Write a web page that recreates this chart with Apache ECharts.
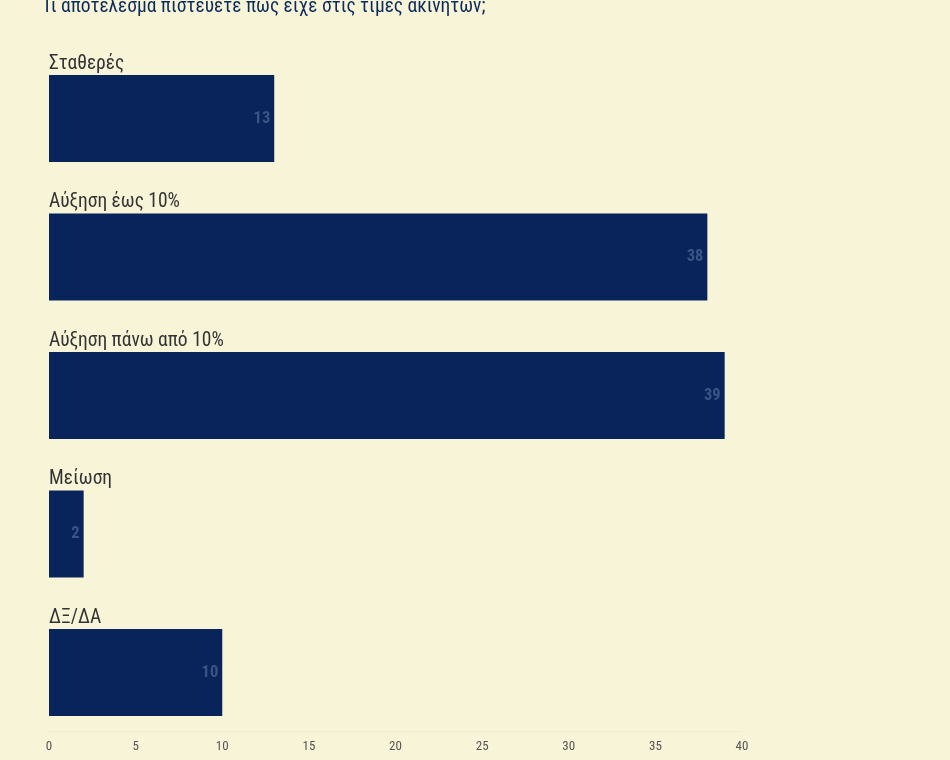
<!DOCTYPE html>
<html>
<head>
<meta charset="utf-8">
<script src="https://cdn.jsdelivr.net/npm/echarts@6/dist/echarts.min.js"></script>
<style>
  html, body { margin: 0; padding: 0; background: #f7f4d8; }
  #chart { width: 950px; height: 760px; }
</style>
</head>
<body>
<div id="chart"></div>
<script>
const titleText = 'Τι αποτέλεσμα πιστεύετε πως είχε στις τιμές ακινήτων;'
const categories = ['Σταθερές', 'Αύξηση έως 10%', 'Αύξηση πάνω από 10%', 'Μείωση', 'ΔΞ/ΔΑ']
const values = [13, 38, 39, 2, 10]

const font = "'Roboto Condensed', 'Liberation Sans Narrow', 'DejaVu Sans Condensed', Roboto, sans-serif"

let myChart = echarts.init(document.getElementById('chart'))

let option = {
  backgroundColor: '#f7f4d8',
  animation: false,
  title: {
    text: titleText,
    left: 37,
    top: -8,
    textStyle: { color: '#0c2a5c', fontSize: 19.5, fontWeight: 'normal', fontFamily: font }
  },
  grid: { left: 49, right: 208, top: 49.25, height: 692.5 },
  xAxis: {
    type: 'value',
    min: 0,
    max: 40,
    interval: 5,
    offset: -11,
    axisLine: { show: true, lineStyle: { color: '#eeebcf' } },
    axisTick: { show: false },
    splitLine: { show: false },
    axisLabel: { margin: 9, color: '#555', fontSize: 13, fontFamily: font }
  },
  yAxis: {
    type: 'category',
    data: categories,
    inverse: true,
    axisLine: { show: false },
    axisTick: { show: false },
    axisLabel: { show: false }
  },
  series: [{
    type: 'bar',
    data: values,
    barWidth: 87,
    itemStyle: { color: '#08245a' },
    label: {
      show: true,
      position: 'insideRight',
      distance: 4,
      color: '#3b5486',
      fontSize: 16.5,
      fontWeight: 'bold',
      fontFamily: font
    }
  }, {
    // category names sit above each bar
    type: 'bar',
    data: values,
    barWidth: 87,
    barGap: '-100%',
    silent: true,
    itemStyle: { color: 'transparent' },
    label: {
      show: true,
      formatter: '{b}',
      position: [0, -1],
      align: 'left',
      verticalAlign: 'bottom',
      color: '#333',
      fontSize: 19.5,
      fontFamily: font
    }
  }]
}

myChart.setOption(option)
</script>
</body>
</html>
